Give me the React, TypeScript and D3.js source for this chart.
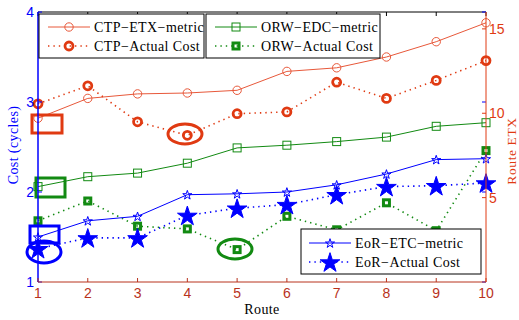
import React from "react"
import { scaleLinear, line, symbol, symbolStar } from "d3"

/** Routes on the x axis */
const routes = [1, 2, 3, 4, 5, 6, 7, 8, 9, 10]

/** Series values, read in cost (cycles) units of the left axis */
const ctpEtxMetric = [2.82, 3.04, 3.09, 3.1, 3.13, 3.34, 3.38, 3.5, 3.67, 3.88]
const ctpActualCost = [2.98, 3.18, 2.78, 2.63, 2.87, 2.89, 3.22, 3.04, 3.24, 3.46]
const orwEdcMetric = [2.06, 2.17, 2.21, 2.32, 2.49, 2.52, 2.56, 2.61, 2.73, 2.77]
const orwActualCost = [1.68, 1.9, 1.62, 1.59, 1.36, 1.73, 1.58, 1.88, 1.57, 2.46]
const eorEtcMetric = [1.5, 1.68, 1.73, 1.97, 1.98, 2.0, 2.08, 2.2, 2.36, 2.37]
const eorActualCost = [1.37, 1.49, 1.49, 1.74, 1.82, 1.86, 1.97, 2.06, 2.07, 2.1]

/** Tick labels */
const leftTicks = [1, 2, 3, 4]
const rightTicks = [5, 10, 15]

const RED = "#e03a12"
const RED_LIGHT = "#e8583a"
const GREEN = "#128a12"
const BLUE = "#0000ff"
const AXIS_RED = "#b8321c"

export default function App() {
	const width = 519
	const height = 320
	const left = 38
	const right = 486
	const top = 12
	const bottom = 282

	const x = scaleLinear().domain([1, 10]).range([left, right])
	const y = scaleLinear().domain([1, 4]).range([bottom, top])
	const yRight = scaleLinear().domain([0, 16]).range([bottom, top])

	const path = (vals: number[]) =>
		line<number>()
			.x((_, i) => x(routes[i]))
			.y(d => y(d))(vals) || ""

	const starBig = symbol().type(symbolStar).size(120)()!
	const starSmall = symbol().type(symbolStar).size(26)()!

	const serif = "'Liberation Serif', 'Times New Roman', serif"
	const sans = "'Liberation Sans', Arial, sans-serif"
	const dotted = "1.4 4"

	const openCircle = (cx: number, cy: number, k: string) => (
		<circle key={k} cx={cx} cy={cy} r={4.2} fill="none" stroke={RED_LIGHT} strokeWidth={1} />
	)
	const thickCircle = (cx: number, cy: number, k: string) => (
		<circle key={k} cx={cx} cy={cy} r={4} fill="none" stroke={RED} strokeWidth={2.8} />
	)
	const openSquare = (cx: number, cy: number, k: string) => (
		<rect key={k} x={cx - 4} y={cy - 4} width={8} height={8} fill="none" stroke={GREEN} strokeWidth={1} />
	)
	const thickSquare = (cx: number, cy: number, k: string) => (
		<rect key={k} x={cx - 3} y={cy - 3} width={6} height={6} fill="none" stroke={GREEN} strokeWidth={3} />
	)
	const openStar = (cx: number, cy: number, k: string) => (
		<path key={k} d={starSmall} transform={`translate(${cx},${cy + 0.5})`} fill="none" stroke={BLUE} strokeWidth={1} />
	)
	const fullStar = (cx: number, cy: number, k: string) => (
		<path key={k} d={starBig} transform={`translate(${cx},${cy + 1})`} fill={BLUE} stroke={BLUE} strokeWidth={1} />
	)

	const series = [
		{ vals: ctpEtxMetric, color: RED_LIGHT, dash: undefined, w: 1, mark: openCircle },
		{ vals: ctpActualCost, color: RED, dash: dotted, w: 1.6, mark: thickCircle },
		{ vals: orwEdcMetric, color: GREEN, dash: undefined, w: 1, mark: openSquare },
		{ vals: orwActualCost, color: GREEN, dash: dotted, w: 1.6, mark: thickSquare },
		{ vals: eorEtcMetric, color: BLUE, dash: undefined, w: 1, mark: openStar },
		{ vals: eorActualCost, color: BLUE, dash: dotted, w: 1.6, mark: fullStar },
	]

	const legendRow = (x0: number, yy: number, s: (typeof series)[number], label: string) => (
		<g key={label}>
			<line x1={x0} x2={x0 + 42} y1={yy} y2={yy} stroke={s.color} strokeWidth={s.w} strokeDasharray={s.dash} />
			{s.mark(x0 + 21, yy, label + "m")}
			<text x={x0 + 46} y={yy + 4.5} fontFamily={serif} fontSize={14} letterSpacing={0.4} fill="#000">
				{label}
			</text>
		</g>
	)

	return (
		<svg width={width} height={height} style={{ position: "absolute", left: 0, top: 0, background: "#fff" }}>
			<rect x={0} y={0} width={width} height={height} fill="#fff" />

			{/* top border with ticks */}
			<line x1={left} x2={right} y1={top} y2={top} stroke="#000" strokeWidth={1} />
			{routes.map(r => (
				<line key={"tt" + r} x1={x(r)} x2={x(r)} y1={top} y2={top + 4} stroke="#000" />
			))}

			{/* series */}
			{series.map((s, i) => (
				<g key={"s" + i}>
					<path d={path(s.vals)} fill="none" stroke={s.color} strokeWidth={s.w} strokeDasharray={s.dash} />
					{s.vals.map((v, j) => s.mark(x(routes[j]), y(v), `m${i}-${j}`))}
				</g>
			))}

			{/* annotations */}
			<rect x={32} y={115} width={30} height={18} fill="none" stroke={RED} strokeWidth={3} />
			<ellipse cx={185} cy={134} rx={17} ry={10} fill="none" stroke={RED} strokeWidth={3} />
			<rect x={36} y={178} width={29} height={19} fill="none" stroke={GREEN} strokeWidth={3} />
			<ellipse cx={235} cy={249} rx={17} ry={10} fill="none" stroke={GREEN} strokeWidth={3} />
			<rect x={30} y={226} width={29} height={17} fill="none" stroke={BLUE} strokeWidth={3} />
			<ellipse cx={44} cy={252} rx={17} ry={11} fill="none" stroke={BLUE} strokeWidth={3} />

			{/* left axis */}
			<line x1={left} x2={left} y1={top} y2={bottom} stroke={BLUE} strokeWidth={1.5} />
			{leftTicks.map(t => (
				<g key={"l" + t}>
					<line x1={left} x2={left + 4} y1={y(t)} y2={y(t)} stroke={BLUE} />
					<line x1={right} x2={right - 4} y1={y(t)} y2={y(t)} stroke={BLUE} />
					<text x={left - 4} y={y(t) + 5} textAnchor="end" fontFamily={sans} fontSize={14} fill={BLUE}>
						{t}
					</text>
				</g>
			))}
			<text transform={`translate(18,145) rotate(-90)`} textAnchor="middle" fontFamily={serif} fontSize={14} letterSpacing={0.4} fill={BLUE}>
				Cost (cycles)
			</text>

			{/* bottom axis */}
			<line x1={left} x2={right} y1={bottom} y2={bottom} stroke={AXIS_RED} strokeWidth={1} />
			{routes.map(r => (
				<g key={"b" + r}>
					<line x1={x(r)} x2={x(r)} y1={bottom} y2={bottom - 4} stroke={AXIS_RED} />
					<text x={x(r)} y={bottom + 16} textAnchor="middle" fontFamily={sans} fontSize={14} fill={AXIS_RED}>
						{r}
					</text>
				</g>
			))}
			<text x={(left + right) / 2} y={314} textAnchor="middle" fontFamily={serif} fontSize={14} letterSpacing={0.4} fill="#000">
				Route
			</text>

			{/* right axis */}
			<line x1={right} x2={right} y1={top} y2={bottom} stroke={RED} strokeWidth={1} />
			{rightTicks.map(t => (
				<g key={"r" + t}>
					<line x1={right} x2={right - 4} y1={yRight(t)} y2={yRight(t)} stroke={RED} />
					<text x={right + 3} y={yRight(t) + 5} fontFamily={sans} fontSize={14} fill={RED}>
						{t}
					</text>
				</g>
			))}
			<text transform={`translate(516,151) rotate(-90)`} textAnchor="middle" fontFamily={serif} fontSize={13.5} letterSpacing={0.6} fill={RED}>
				Route ETX
			</text>

			{/* legends */}
			<rect x={39} y={14} width={165} height={44} fill="#fff" stroke="#000" strokeWidth={1} />
			{legendRow(48, 27, series[0], "CTP−ETX−metric")}
			{legendRow(48, 46, series[1], "CTP−Actual Cost")}
			<rect x={206} y={14} width={174} height={44} fill="#fff" stroke="#000" strokeWidth={1} />
			{legendRow(215, 27, series[2], "ORW−EDC−metric")}
			{legendRow(215, 46, series[3], "ORW−Actual Cost")}
			<rect x={301} y={229} width={180} height={45} fill="#fff" stroke="#000" strokeWidth={1} />
			{legendRow(309, 243, series[4], "EoR−ETC−metric")}
			{legendRow(309, 262, series[5], "EoR−Actual Cost")}
		</svg>
	)
}
